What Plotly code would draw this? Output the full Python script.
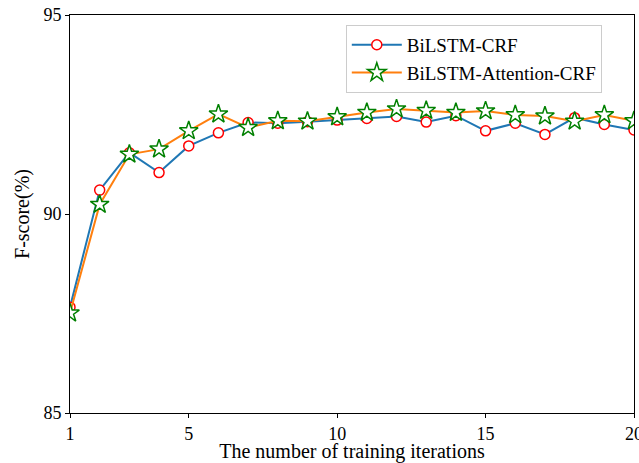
import plotly.graph_objects as go

iterations = list(range(1, 21))
bilstm_crf = [87.66, 90.60, 91.54, 91.04, 91.71, 92.04, 92.30, 92.28, 92.32, 92.36,
              92.40, 92.45, 92.31, 92.47, 92.09, 92.28, 92.00, 92.42, 92.25, 92.11]
bilstm_att_crf = [87.51, 90.24, 91.50, 91.63, 92.09, 92.51, 92.17, 92.34, 92.33, 92.44,
                  92.55, 92.64, 92.60, 92.55, 92.59, 92.49, 92.46, 92.33, 92.49, 92.34]
x_ticks = [1, 5, 10, 15, 20]
y_ticks = [85, 90, 95]

FONT = "Liberation Serif, Times New Roman, serif"

fig = go.Figure()
fig.add_trace(go.Scatter(
    x=iterations, y=bilstm_crf, mode="lines+markers", name="BiLSTM-CRF",
    line=dict(color="#1f77b4", width=2),
    marker=dict(symbol="circle", size=10, color="white",
                line=dict(color="#ff0000", width=1.5)),
))
fig.add_trace(go.Scatter(
    x=iterations, y=bilstm_att_crf, mode="lines+markers", name="BiLSTM-Attention-CRF",
    line=dict(color="#ff7f0e", width=2),
    marker=dict(symbol="star", size=14, color="white",
                line=dict(color="#008000", width=1.5)),
))

axis_common = dict(
    showline=True, linecolor="black", linewidth=1, mirror=True,
    showgrid=False, zeroline=False, ticks="outside", ticklen=4,
    tickcolor="black", tickfont=dict(family=FONT, size=18, color="black"),
    automargin=False, ticklabeloverflow="allow",
)
fig.update_xaxes(range=[1, 20], tickvals=x_ticks,
                 title=dict(text="The number of training iterations",
                            font=dict(family=FONT, size=20, color="black"), standoff=7),
                 **axis_common)
fig.update_yaxes(range=[85, 95], tickvals=y_ticks,
                 title=dict(text="F-score(%)",
                            font=dict(family=FONT, size=20, color="black"), standoff=8),
                 **axis_common)

fig.update_layout(
    width=639, height=463,
    margin=dict(l=70, r=5, t=15, b=50),
    plot_bgcolor="white", paper_bgcolor="white",
    font=dict(family=FONT, size=20, color="black"),
    legend=dict(x=0.489, y=0.975, xanchor="left", yanchor="top",
                bgcolor="rgba(255,255,255,0.8)", bordercolor="#cccccc", borderwidth=1,
                font=dict(family=FONT, size=19, color="black"),
                itemwidth=50, tracegroupgap=0),
    showlegend=True,
)

fig.write_html("out.html", config={"displayModeBar": False},
               post_script="document.body.style.margin='0';document.body.style.overflow='hidden';")
